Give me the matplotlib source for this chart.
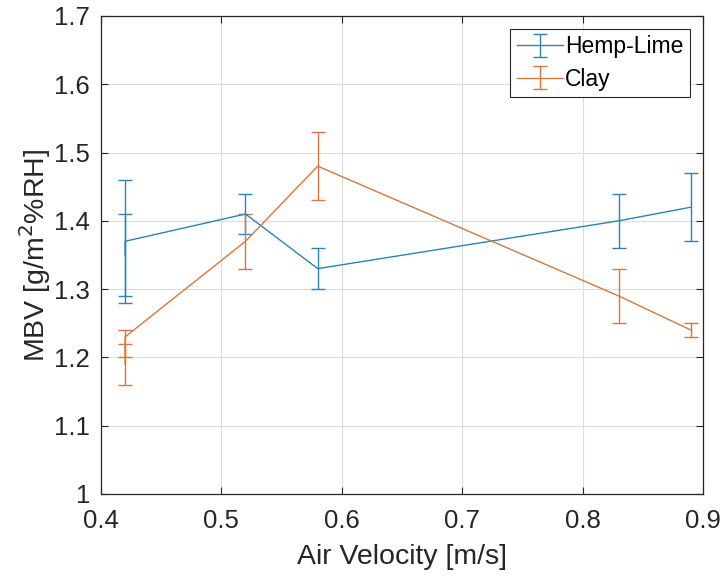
import matplotlib.pyplot as plt
import numpy as np

velocity = [0.42, 0.42, 0.52, 0.58, 0.83, 0.89]

hemp_mbv = [1.35, 1.37, 1.41, 1.33, 1.40, 1.42]
hemp_low = [1.29, 1.28, 1.38, 1.30, 1.36, 1.37]
hemp_high = [1.41, 1.46, 1.44, 1.36, 1.44, 1.47]

clay_mbv = [1.19, 1.23, 1.37, 1.48, 1.29, 1.24]
clay_low = [1.16, 1.20, 1.33, 1.43, 1.25, 1.23]
clay_high = [1.22, 1.24, 1.41, 1.53, 1.33, 1.25]

series_names = ['Hemp-Lime', 'Clay']
colors = ['#2a84b6', '#d6773f']

plt.rcParams['font.family'] = ['Liberation Sans', 'DejaVu Sans']

fig = plt.figure(figsize=(7.23, 5.76), dpi=100)
ax = fig.add_axes([0.1397, 0.1424, 0.8326, 0.8299])

sets = [(hemp_mbv, hemp_low, hemp_high), (clay_mbv, clay_low, clay_high)]
for (mbv, low, high), name, col in zip(sets, series_names, colors):
    mbv = np.array(mbv)
    yerr = [mbv - np.array(low), np.array(high) - mbv]
    ax.errorbar(velocity, mbv, yerr=yerr, color=col, lw=1.0, elinewidth=1.0,
                capsize=5, capthick=1.0, label=name)

ax.set_xlim(0.4, 0.9)
ax.set_ylim(1.0, 1.7)
ax.set_xticks(np.arange(0.4, 0.91, 0.1))
ax.set_yticks(np.arange(1.0, 1.71, 0.1))
ax.set_xticklabels(['0.4', '0.5', '0.6', '0.7', '0.8', '0.9'])
ax.set_yticklabels(['1', '1.1', '1.2', '1.3', '1.4', '1.5', '1.6', '1.7'])

ax.grid(True, color='#dcdcdc', lw=0.8)
ax.set_axisbelow(True)
ax.tick_params(direction='in', top=True, right=True, length=5, width=0.8,
               colors='#262626', labelsize=18.5)
ax.tick_params(axis='x', pad=11)
ax.tick_params(axis='y', pad=8)
for s in ax.spines.values():
    s.set_color('#262626')
    s.set_linewidth(0.9)

ax.set_xlabel('Air Velocity [m/s]', fontsize=20.5, color='#262626', labelpad=8)
ax.set_ylabel('MBV [g/m$^2$%RH]', fontsize=20.5, color='#262626', labelpad=1)

leg = ax.legend(loc='upper right', fontsize=16.5, fancybox=False, framealpha=1,
                edgecolor='#262626', handlelength=2.0, handletextpad=0.1,
                borderpad=0.3, labelspacing=0.4, borderaxespad=0.55)
leg.get_frame().set_linewidth(0.8)

fig.savefig('out.png', dpi=100)
